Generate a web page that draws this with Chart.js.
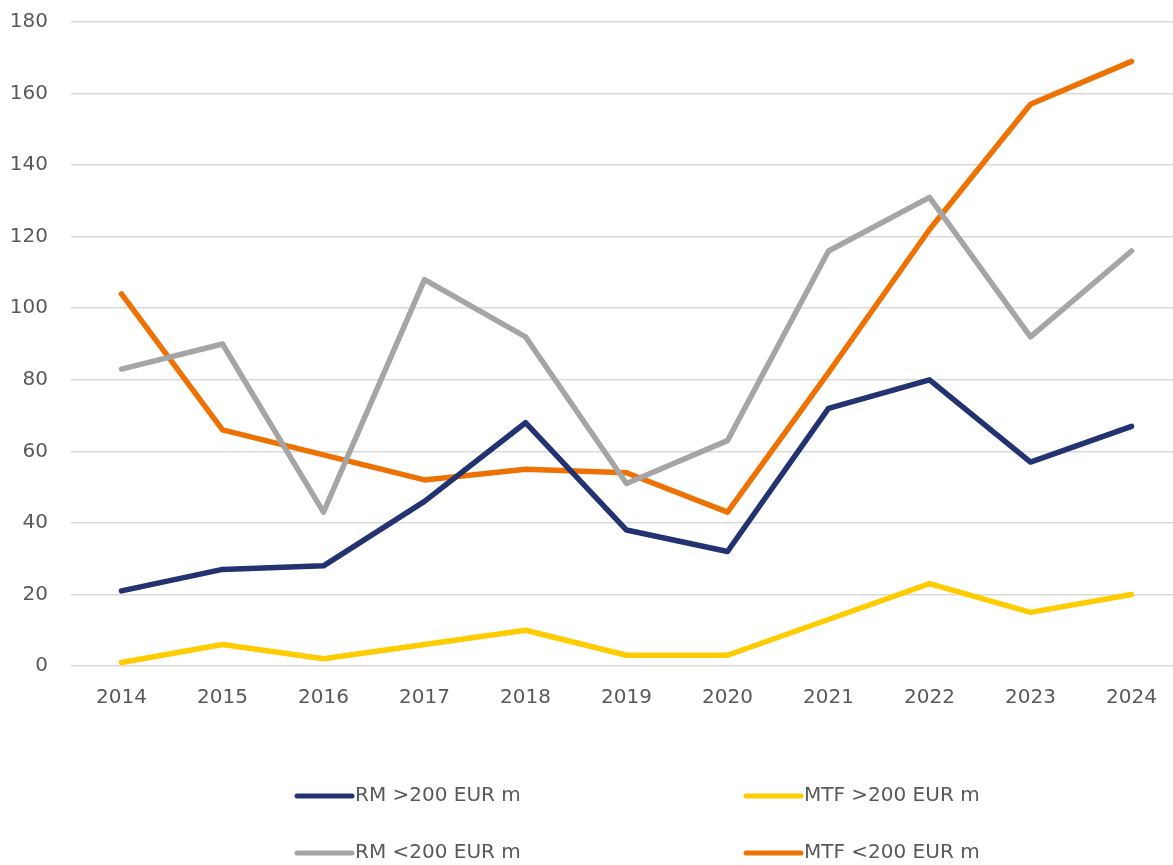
<!DOCTYPE html>
<html>
<head>
<meta charset="utf-8">
<script src="https://cdn.jsdelivr.net/npm/chart.js@4.4.1/dist/chart.umd.min.js"></script>
<style>
  html, body { margin: 0; padding: 0; background: #fff; overflow: hidden; }
  #wrap { width: 1173px; height: 865px; overflow: hidden; }
  #myChart { display: block; margin-top: -13px; }
</style>
</head>
<body>
<div id="wrap"><canvas id="myChart" width="1182" height="878"></canvas></div>
<script>
const years = ['2014', '2015', '2016', '2017', '2018', '2019', '2020', '2021', '2022', '2023', '2024'];
const rmAbove = [21, 27, 28, 46, 68, 38, 32, 72, 80, 57, 67];
const mtfAbove = [1, 6, 2, 6, 10, 3, 3, 13, 23, 15, 20];
const rmBelow = [83, 90, 43, 108, 92, 51, 63, 116, 131, 92, 116];
const mtfBelow = [104, 66, 59, 52, 55, 54, 43, 82, 122, 157, 169];

const FONT = 'DejaVu Sans';
const TEXT = '#595959';

// legende in 2 kolommen onder de grafiek
const legendGrid = {
  id: 'legendGrid',
  afterDraw(chart) {
    const { ctx } = chart;
    const cols = [297, 746];
    const rows = [809, 866];
    ctx.save();
    ctx.font = '20px ' + FONT;
    ctx.textBaseline = 'middle';
    ctx.lineCap = 'round';
    chart.data.datasets.forEach((ds, i) => {
      const x = cols[i % 2];
      const y = rows[Math.floor(i / 2)];
      ctx.strokeStyle = ds.borderColor;
      ctx.lineWidth = 5;
      ctx.beginPath();
      ctx.moveTo(x, y);
      ctx.lineTo(x + 55, y);
      ctx.stroke();
      ctx.fillStyle = TEXT;
      ctx.fillText(ds.label, x + 58, y);
    });
    ctx.restore();
  }
};

const line = (label, data, color) => ({
  label: label,
  data: data,
  borderColor: color,
  backgroundColor: color,
  borderWidth: 5.5,
  pointRadius: 0,
  tension: 0,
  borderJoinStyle: 'round',
  borderCapStyle: 'round'
});

new Chart(document.getElementById('myChart'), {
  type: 'line',
  data: {
    labels: years,
    datasets: [
      line('RM >200 EUR m', rmAbove, '#233270'),
      line('MTF >200 EUR m', mtfAbove, '#ffcc00'),
      line('RM <200 EUR m', rmBelow, '#a5a5a5'),
      line('MTF <200 EUR m', mtfBelow, '#ee7203')
    ]
  },
  options: {
    responsive: false,
    animation: false,
    layout: { padding: { top: 0, right: 0, bottom: 159, left: 0 } },
    plugins: {
      legend: { display: false },
      tooltip: { enabled: false }
    },
    scales: {
      x: {
        offset: true,
        grid: { display: false },
        border: { display: false },
        ticks: { color: TEXT, font: { family: FONT, size: 20 }, padding: 12, maxRotation: 0 },
        afterFit(scale) { scale.height = 40; }
      },
      y: {
        min: 0,
        max: 180,
        grid: { color: '#d9d9d9', lineWidth: 1.5, drawTicks: false },
        border: { display: false },
        ticks: { stepSize: 20, color: TEXT, font: { family: FONT, size: 20 }, padding: 23 },
        afterFit(scale) { scale.width = 71; }
      }
    }
  },
  plugins: [legendGrid]
});
</script>
</body>
</html>
